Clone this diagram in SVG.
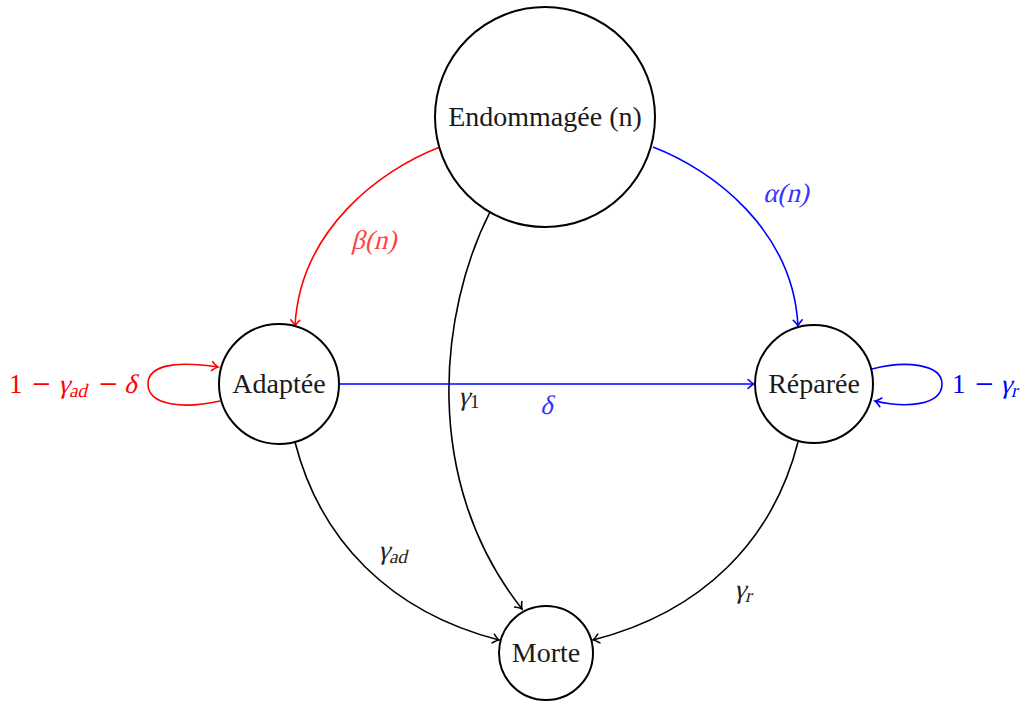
<svg xmlns="http://www.w3.org/2000/svg" width="1028" height="702" viewBox="0 0 1028 702">
<style>
.node{fill:#fff;stroke:#000;stroke-width:2}
.lbl{font-family:"Liberation Serif","DejaVu Serif",serif;font-size:28px;fill:#1a1a1a;text-anchor:middle}
.m{font-family:"Liberation Serif","DejaVu Serif",serif;font-size:27px}
.s{font-size:19px}
.mn{font-size:33px}
.e{fill:none;stroke-width:1.6}
.k{stroke:#000}.r{stroke:#f00}.b{stroke:#00f}
.tr{fill:#f00}.tb{fill:#00f}.tk{fill:#222}
</style>
<defs>
<marker id="ak" markerUnits="userSpaceOnUse" markerWidth="14" markerHeight="14" refX="0" refY="0" viewBox="-8 -7 10 14" orient="auto"><path d="M-6,-4.5 Q-2,-0.8 0,0 Q-2,0.8 -6,4.5" fill="none" stroke="#000" stroke-width="1.6" stroke-linecap="round"/></marker>
<marker id="ar" markerUnits="userSpaceOnUse" markerWidth="14" markerHeight="14" refX="0" refY="0" viewBox="-8 -7 10 14" orient="auto"><path d="M-6,-4.5 Q-2,-0.8 0,0 Q-2,0.8 -6,4.5" fill="none" stroke="#f00" stroke-width="1.6" stroke-linecap="round"/></marker>
<marker id="ab" markerUnits="userSpaceOnUse" markerWidth="14" markerHeight="14" refX="0" refY="0" viewBox="-8 -7 10 14" orient="auto"><path d="M-6,-4.5 Q-2,-0.8 0,0 Q-2,0.8 -6,4.5" fill="none" stroke="#00f" stroke-width="1.6" stroke-linecap="round"/></marker>
</defs>
<rect width="1028" height="702" fill="#fff"/>
<g id="connectors">
<path class="e r" d="M440,147 C380,170 300,230 295,326" marker-end="url(#ar)"/>
<path class="e b" d="M653,147 C713,170 793,230 798,326" marker-end="url(#ab)"/>
<path class="e k" d="M490,212 C440,310 420,480 522,609" marker-end="url(#ak)"/>
<path class="e b" d="M340,384 L754,384" marker-end="url(#ab)"/>
<path class="e k" d="M295,442 C320,540 390,612 499,640" marker-end="url(#ak)"/>
<path class="e k" d="M798,442 C773,540 703,612 593,640" marker-end="url(#ak)"/>
<path class="e r" d="M220,401 C185,409 148,406 148,384 C148,362 185,362 218,367" marker-end="url(#ar)"/>
<path class="e b" d="M872,369 C905,360 942,364 942,384 C942,406 905,408 875,401" marker-end="url(#ab)"/>
<text class="m tr" transform="translate(351,249) skewX(-14)" style="fill:#f44">β(n)</text>
<text class="m tb" transform="translate(763,202) skewX(-14)" style="fill:#33f">α(n)</text>
<text class="m tk" transform="translate(458,405) skewX(-14)">γ</text>
<text class="m tk s" x="470" y="408">1</text>
<text class="m tb" transform="translate(540,414) skewX(-14)" style="fill:#33f">δ</text>
<text class="m tk" transform="translate(378,559) skewX(-14)">γ<tspan class="s" dy="4">ad</tspan></text>
<text class="m tk" transform="translate(734,598) skewX(-14)">γ<tspan class="s" dy="4">r</tspan></text>
<text class="m tr" x="9" y="393">1</text>
<text class="m tr mn" x="32" y="395">−</text>
<text class="m tr" transform="translate(58,393) skewX(-14)">γ<tspan class="s" dy="4">ad</tspan></text>
<text class="m tr mn" x="99" y="395">−</text>
<text class="m tr" transform="translate(124,393) skewX(-14)">δ</text>
<text class="m tb" x="952" y="393">1</text>
<text class="m tb mn" x="975" y="395">−</text>
<text class="m tb" transform="translate(1000,393) skewX(-14)">γ<tspan class="s" dy="4">r</tspan></text>
</g>
<g id="endommagee">
<circle class="node" cx="545" cy="117" r="110"/>
<text class="lbl" x="545" y="126">Endommagée (n)</text>
</g>
<g id="adaptee">
<circle class="node" cx="279" cy="384" r="60"/>
<text class="lbl" x="279" y="393">Adaptée</text>
</g>
<g id="reparee">
<circle class="node" cx="814" cy="384" r="59"/>
<text class="lbl" x="814" y="393">Réparée</text>
</g>
<g id="morte">
<circle class="node" cx="546" cy="653" r="47"/>
<text class="lbl" x="546" y="662">Morte</text>
</g>
</svg>
